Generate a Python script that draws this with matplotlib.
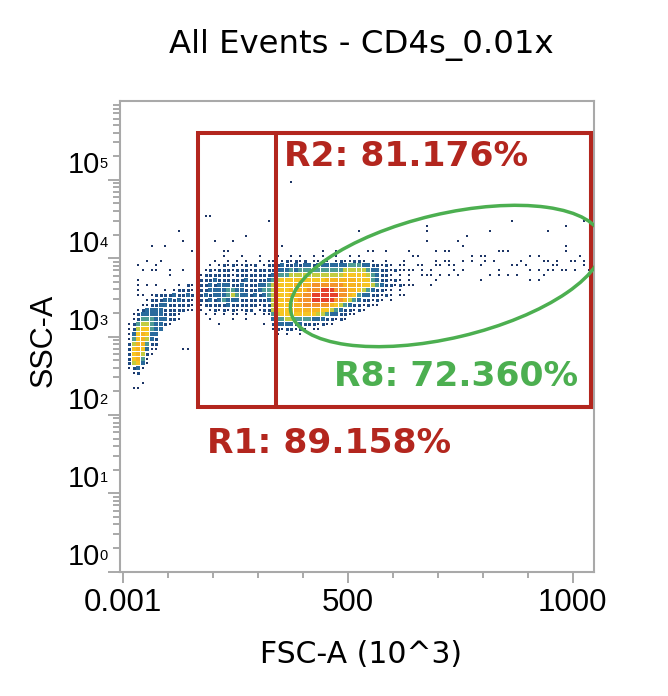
import numpy as np
import matplotlib
matplotlib.use("Agg")
import matplotlib.pyplot as plt
from matplotlib.patches import Rectangle, Ellipse
from matplotlib import transforms
from matplotlib.ticker import FixedLocator, LogLocator, NullFormatter

# ---------------- data ----------------
title = "All Events - CD4s_0.01x"
x_label = "FSC-A (10^3)"
y_label = "SSC-A"
x_tick_values = [0, 500, 1000]
x_tick_labels = ["0.001", "500", "1000"]
x_minor_values = [100, 200, 300, 400, 600, 700, 800, 900]
y_decades = [0, 1, 2, 3, 4, 5]

# binned events: FSC bins of 10 (x10^3) from 0, log10(SSC) bins of 1/16 decade from 10^2
fsc_bin_width = 10
n_fsc_bins = 104
log_ssc_start = 2.0
log_ssc_step = 1 / 16
n_ssc_bins = 48
# (row, first column, density levels); '.' = no event, 1..9 = increasing density
density_segments = [
    # debris / low-FSC population
    (5, 2, "11"), (6, 4, "1"), (8, 2, "12"), (9, 1, "1231"),
    (10, 1, "25631"), (11, 1, "26741"), (12, 1, "267521"),
    (13, 1, "2676311"), (13, 13, "11"), (14, 1, "2577422"),
    (15, 1, "1467532"), (16, 1, "1367633"), (17, 1, "12566433"),
    (18, 1, "1245543321"), (19, 2, "12444333221"), (20, 2, "12333332221"),
    (21, 3, "1233332222211"), (22, 4, "112233222221"), (23, 5, "122233232221"),
    (24, 3, "11.12222322322"), (25, 3, "1.....1.122212"), (26, 3, "1.1.1....1.212"),
    (27, 3, "1"), (28, 10, "1"), (29, 4, "1.11..1..1"), (30, 3, "1...1"),
    (31, 5, "1..1"), (33, 15, "1"), (34, 6, "1..1"), (35, 13, "1"), (37, 12, "1"),
    # intermediate population (R1 only)
    (18, 21, "1.........1"), (19, 19, "1....1..1.....1"),
    (20, 18, "1.1.1.11.1.1.112"), (21, 17, "1.1212121122.1222"),
    (22, 16, "112222232222221223"), (23, 15, "1222323433322222233"),
    (24, 15, "2223233345433232344"), (25, 15, "1222333344332223444"),
    (26, 15, "1122323332232223344"), (27, 16, "122232222223222233"),
    (28, 17, "12222221222222222"), (29, 18, "1212221222122222"),
    (30, 19, "1.121211212.1221"), (31, 20, "1..1.1.1..1.11"),
    (32, 22, "1...1...1"), (33, 22, "11"), (34, 35, "1"), (35, 20, "1...1"),
    (36, 27, "1"), (39, 32, "1"), (40, 18, "11"), (47, 37, "1"),
    # main lymphocyte population
    (16, 34, "1.1..1"),
    (17, 33, "12122121.11"),
    (18, 33, "23333232221211"),
    (19, 33, "34455444433322121"),
    (20, 33, "4566666666554332211"),
    (21, 33, "566667777776654322121"),
    (22, 33, "566677788888876543221211"),
    (23, 33, "5667778889999988754322121.1"),
    (24, 33, "566677788999999887643322121.1"),
    (25, 33, "566677778889998887765432211.1"),
    (26, 33, "5666677778888888777766543221211"),
    (27, 33, "45666666666677777776664322121.1"),
    (28, 33, "344455555555555566666543221.1."),
    (29, 33, "23334344444444445555543322121.1"),
    (30, 33, "223223233233333334443322121.1"),
    (31, 33, "1.121212.1121.1211221.1..1"),
    (32, 34, "1..1.1..1.1..1..1.1"),
    (33, 44, "1..1......11..1"),
    (37, 52, "1"),
]
# isolated events of the sparse high-FSC tail, as (FSC bin, SSC bin)
tail_bins = [
    (86, 39), (81, 37), (67, 38), (67, 37), (67, 35), (98, 38), (94, 37), (98, 34),
    (76, 36), (74, 35), (75, 34), (102, 39), (71, 33), (69, 33), (63, 33), (64, 32),
    (65, 32), (72, 33), (79, 32), (80, 32), (84, 33), (85, 33), (83, 33), (90, 32),
    (92, 32), (93, 31), (94, 31), (95, 30), (96, 31), (98, 33), (99, 31), (100, 31),
    (101, 32), (102, 31), (102, 30), (96, 30), (94, 29), (93, 28), (92, 29), (90, 29),
    (89, 30), (88, 31), (87, 28), (85, 28), (83, 28), (83, 29), (82, 31), (80, 31),
    (79, 27), (77, 31), (77, 32), (75, 31), (75, 29), (73, 29), (72, 31), (72, 30),
    (71, 31), (70, 28), (69, 31), (69, 30), (68, 29), (68, 28), (67, 28), (66, 29),
    (66, 28), (66, 30), (65, 30), (64, 29), (63, 28), (63, 27), (62, 30), (62, 31),
    (62, 29), (62, 26), (63, 26), (68, 26), (103, 29), (100, 29), (98, 29), (97, 29),
    (95, 29), (90, 27), (92, 27), (87, 30), (86, 30), (81, 28), (79, 30), (74, 28),
    (73, 30), (70, 30), (72, 28), (69, 27), (64, 26), (62, 24),
]

# gates
r1_fsc = (167, 1040)
r2_fsc = (341, 1040)
gate_ssc = (10 ** 2.1, 10 ** 5.6)
r8_center = (720, 10 ** 3.772)
r8_axes_in = (1.60, 0.62)   # semi-axes (inches)
r8_angle = 13.3
gate_texts = ["R2: 81.176%", "R8: 72.360%", "R1: 89.158%"]

# ---------------- styles ----------------
RED = "#b3261e"
GREEN = "#4caf50"
GRAY = "#a9a9a9"
level_colors = {1: "#1d3566", 2: "#1f4a82", 3: "#2a6a9c", 4: "#4f9c94",
                5: "#c2cc40", 6: "#f7c522", 7: "#f6b420", 8: "#f3932a", 9: "#e5402b"}
level_px = {1: 2.5, 2: 3.0, 3: 3.7, 4: 4.4}

W, H = 668, 696
fig = plt.figure(figsize=(W / 100, H / 100), dpi=100)
fig.patch.set_facecolor("white")
ax_l, ax_r, ax_t, ax_b = 120, 593.5, 101.0, 571.7
ax = fig.add_axes([ax_l / W, 1 - ax_b / H, (ax_r - ax_l) / W, (ax_b - ax_t) / H])
ax.set_yscale("log")

# density grid
levels = np.zeros((n_ssc_bins, n_fsc_bins), dtype=int)
for row, col, s in density_segments:
    for i, ch in enumerate(s):
        if ch != ".":
            levels[row, col + i] = int(ch)
for c, r in tail_bins:
    levels[r, c] = max(levels[r, c], 1)

rows, cols = np.nonzero(levels)
fsc_c = cols * fsc_bin_width + fsc_bin_width / 2
ssc_c = 10 ** (log_ssc_start + (rows + 0.5) * log_ssc_step)
lv = levels[rows, cols]
for L in range(1, 10):
    m = lv == L
    if not m.any():
        continue
    px = level_px.get(L, 5.0)
    ax.scatter(fsc_c[m], ssc_c[m], s=(px * 0.72) ** 2, marker="s",
               c=level_colors[L], linewidths=0, zorder=2 + L * 0.01)

# gates
ax.add_patch(Rectangle((r1_fsc[0], gate_ssc[0]), r1_fsc[1] - r1_fsc[0], gate_ssc[1] - gate_ssc[0],
                       fill=False, ec=RED, lw=2.9, zorder=5))
ax.add_patch(Rectangle((r2_fsc[0], gate_ssc[0]), r2_fsc[1] - r2_fsc[0], gate_ssc[1] - gate_ssc[0],
                       fill=False, ec=RED, lw=2.9, zorder=5))
ell_tr = fig.dpi_scale_trans + transforms.ScaledTranslation(r8_center[0], r8_center[1], ax.transData)
ax.add_patch(Ellipse((0, 0), 2 * r8_axes_in[0], 2 * r8_axes_in[1], angle=r8_angle,
                     transform=ell_tr, fill=False, ec=GREEN, lw=2.5, zorder=6))

ax.set_xlim(-6, 1046)
ax.set_ylim(1, 10 ** 6.004)

def axfrac(px_x, px_y):
    return (px_x - ax_l) / (ax_r - ax_l), (ax_b - px_y) / (ax_b - ax_t)

lab_font = dict(family="DejaVu Sans", weight="bold", fontsize=24.8)
for txt, (px_x, px_y), col in zip(gate_texts, [(284, 166), (334, 386), (207, 452.7)],
                                  [RED, GREEN, RED]):
    fx, fy = axfrac(px_x, px_y)
    ax.text(fx, fy, txt, transform=ax.transAxes, ha="left", va="baseline",
            color=col, zorder=7, **lab_font)

# spines & ticks
for sp in ax.spines.values():
    sp.set_color(GRAY)
    sp.set_linewidth(1.5)
ax.xaxis.set_major_locator(FixedLocator(x_tick_values))
ax.xaxis.set_minor_locator(FixedLocator(x_minor_values))
ax.set_xticklabels(x_tick_labels, fontfamily="Liberation Sans", fontsize=22.5)
ax.yaxis.set_major_locator(FixedLocator([10.0 ** k for k in y_decades]))
ax.yaxis.set_major_formatter(NullFormatter())
ax.yaxis.set_minor_locator(LogLocator(base=10, subs=np.arange(2, 10), numticks=30))
ax.yaxis.set_minor_formatter(NullFormatter())
ax.tick_params(axis="x", which="major", length=7.9, width=1.4, color=GRAY, pad=4.0)
ax.tick_params(axis="x", which="minor", length=4.3, width=1.4, color=GRAY)
ax.tick_params(axis="y", which="major", length=8.6, width=1.4, color=GRAY)
ax.tick_params(axis="y", which="minor", length=5.0, width=1.4, color=GRAY)

for k in y_decades:
    ax.annotate("10", xy=(0, 10.0 ** k), xycoords=("axes fraction", "data"),
                xytext=(-14.7, 4.6), textcoords="offset points", ha="right", va="baseline",
                fontsize=21, family="Liberation Sans", annotation_clip=False)
    ax.annotate(str(k), xy=(0, 10.0 ** k), xycoords=("axes fraction", "data"),
                xytext=(-14.8, 8.2), textcoords="offset points", ha="left", va="baseline",
                fontsize=10.5, family="Liberation Sans", annotation_clip=False)

fig.text(361 / W, 1 - 53 / H, title, ha="center", va="baseline",
         fontsize=23.3, family="DejaVu Sans")
fig.text(361 / W, 1 - 663.3 / H, x_label, ha="center", va="baseline",
         fontsize=21.5, family="DejaVu Sans")
fig.text(52 / W, 1 - 340 / H, y_label, ha="center", va="baseline", rotation=90,
         rotation_mode="anchor", fontsize=22, family="Liberation Sans")

fig.savefig("out.png", dpi=100, facecolor="white")
